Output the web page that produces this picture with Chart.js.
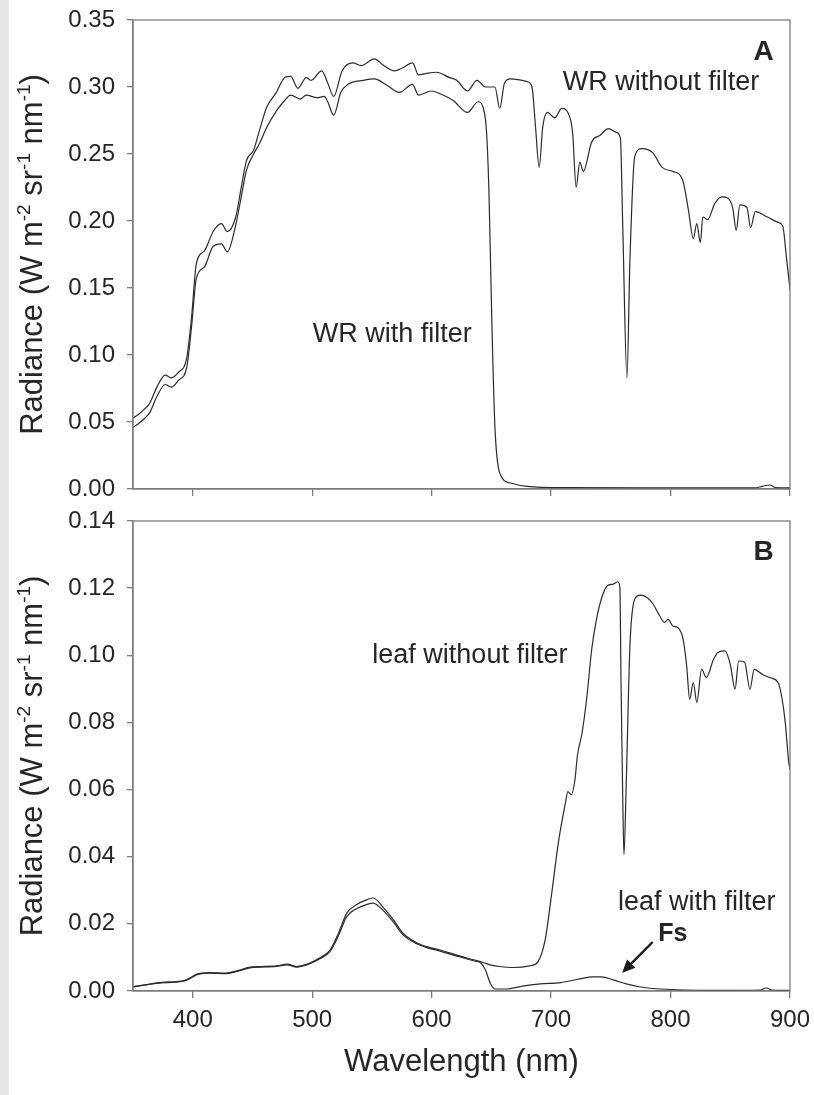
<!DOCTYPE html>
<html>
<head>
<meta charset="utf-8">
<script src="https://cdn.jsdelivr.net/npm/chart.js@4.4.1/dist/chart.umd.min.js"></script>
<style>
  html, body { margin: 0; padding: 0; background: #fff; }
  body { width: 814px; height: 1095px; position: relative; overflow: hidden; }
  body::before { content: ''; position: absolute; left: 0; top: 0; width: 9px; height: 1095px; background: #e6e6e6; }
  canvas { position: absolute; left: 0; }
  #panel-a { top: 0; }
  #panel-b { top: 500px; }
</style>
</head>
<body>
<canvas id="panel-a" width="814" height="520"></canvas>
<canvas id="panel-b" width="814" height="595"></canvas>
<script>
// Panel A: white reference, with and without filter
const wrNoFilterNm = [350, 355, 360, 364, 370, 377, 382, 388, 395, 399, 403, 410, 417, 424, 429, 436, 440, 445, 451, 456, 462, 470, 477, 482, 488, 495, 499, 508, 513, 518, 525, 534, 541, 552, 560, 569, 575, 584, 589, 595, 604, 615, 621, 630, 638, 645, 653, 657, 661, 666, 680, 684, 687, 690, 693, 697, 703, 709, 714, 718, 721, 724, 727, 734, 741, 748, 755, 758, 760, 763.5, 766, 770, 776, 785, 793, 802, 810, 815, 819, 822, 825, 827, 831, 837, 843, 848, 852, 855, 858, 864, 867, 871, 881, 890, 894, 897, 900];
const wrNoFilter = [0.053, 0.056, 0.060, 0.064, 0.076, 0.085, 0.083, 0.087, 0.098, 0.128, 0.168, 0.178, 0.192, 0.198, 0.192, 0.203, 0.222, 0.245, 0.253, 0.268, 0.285, 0.296, 0.307, 0.308, 0.299, 0.307, 0.305, 0.312, 0.303, 0.293, 0.312, 0.318, 0.316, 0.321, 0.316, 0.312, 0.314, 0.318, 0.309, 0.310, 0.311, 0.307, 0.305, 0.297, 0.305, 0.300, 0.300, 0.284, 0.303, 0.306, 0.304, 0.300, 0.270, 0.240, 0.270, 0.281, 0.277, 0.284, 0.281, 0.266, 0.225, 0.244, 0.237, 0.259, 0.264, 0.269, 0.266, 0.262, 0.196, 0.083, 0.171, 0.248, 0.254, 0.251, 0.240, 0.237, 0.231, 0.208, 0.187, 0.198, 0.184, 0.203, 0.201, 0.213, 0.218, 0.217, 0.210, 0.193, 0.212, 0.210, 0.195, 0.207, 0.203, 0.199, 0.196, 0.173, 0.149];

const wrFilterNm = [350, 355, 360, 364, 370, 377, 382, 388, 395, 399, 403, 410, 417, 424, 429, 436, 440, 445, 451, 456, 462, 470, 476, 482, 490, 495, 504, 510, 513, 518, 524, 530, 543, 552, 563, 573, 584, 589, 600, 607, 618, 630, 639, 643, 646, 648, 650.5, 653, 657, 666, 680, 713, 800, 870, 877, 883, 888, 900];
const wrFilter = [0.046, 0.049, 0.053, 0.057, 0.069, 0.078, 0.076, 0.081, 0.091, 0.121, 0.157, 0.166, 0.181, 0.183, 0.177, 0.197, 0.215, 0.238, 0.250, 0.258, 0.270, 0.282, 0.289, 0.294, 0.291, 0.294, 0.292, 0.293, 0.289, 0.279, 0.296, 0.302, 0.305, 0.306, 0.301, 0.296, 0.302, 0.294, 0.297, 0.295, 0.290, 0.281, 0.289, 0.285, 0.266, 0.221, 0.121, 0.046, 0.012, 0.0045, 0.002, 0.001, 0.0008, 0.0008, 0.002, 0.003, 0.001, 0.0008];

// Panel B: leaf, with and without filter
const leafNoFilterNm = [350, 360, 370, 380, 392, 398, 403, 414, 428, 437, 448, 470, 479, 487, 498, 506, 515, 522, 529, 537, 546, 551, 560, 568, 576, 588, 596, 607, 621, 635, 643, 650, 657, 668, 682, 689, 695, 700.5, 706, 712, 714, 717, 720, 722, 726, 730, 734, 738, 742, 747, 752, 756, 757.7, 758.5, 760, 761, 763, 766, 770, 774.5, 780, 785.5, 791, 795, 798, 802, 806, 810.5, 813.5, 816, 819, 822, 826, 830, 836, 840, 845.5, 850, 854, 857, 862, 866.5, 870, 877, 883, 890, 893, 896, 899, 900];
const leafNoFilter = [0.0013, 0.0018, 0.0024, 0.0027, 0.0030, 0.0039, 0.0050, 0.0055, 0.0053, 0.0060, 0.0071, 0.0075, 0.0080, 0.0073, 0.0083, 0.0098, 0.0122, 0.0172, 0.0232, 0.0257, 0.0272, 0.0277, 0.0247, 0.0212, 0.0172, 0.0143, 0.0132, 0.0122, 0.0107, 0.0093, 0.0085, 0.0077, 0.0073, 0.0070, 0.0075, 0.0087, 0.0152, 0.029, 0.044, 0.056, 0.0594, 0.0585, 0.063, 0.070, 0.077, 0.0878, 0.1018, 0.1107, 0.1167, 0.1207, 0.1212, 0.1219, 0.1197, 0.0928, 0.057, 0.0406, 0.063, 0.1028, 0.1167, 0.1179, 0.1173, 0.1152, 0.1117, 0.1098, 0.1107, 0.1087, 0.1083, 0.1048, 0.0968, 0.0869, 0.0919, 0.0860, 0.0958, 0.0934, 0.0988, 0.1009, 0.1013, 0.0973, 0.0899, 0.0983, 0.0979, 0.0899, 0.0958, 0.0943, 0.0934, 0.0919, 0.0878, 0.0800, 0.0680, 0.0660];

const leafFilterNm = [350, 370, 392, 398, 403, 414, 428, 437, 448, 470, 479, 487, 498, 506, 515, 522, 529, 537, 546, 551, 560, 568, 576, 588, 596, 607, 621, 635, 641, 645, 649, 653, 663, 674, 691, 708, 724, 735, 742, 752, 763, 775, 791, 836, 875, 880, 885, 900];
const leafFilter = [0.0012, 0.0023, 0.0029, 0.0037, 0.0048, 0.0053, 0.0052, 0.0058, 0.0069, 0.0073, 0.0078, 0.0071, 0.0081, 0.0095, 0.0118, 0.0165, 0.0222, 0.0245, 0.0258, 0.0262, 0.0238, 0.0205, 0.0167, 0.0140, 0.0129, 0.0119, 0.0104, 0.0090, 0.0084, 0.0063, 0.0024, 0.0006, 0.0006, 0.0013, 0.0021, 0.0025, 0.0036, 0.0042, 0.0042, 0.0033, 0.0021, 0.0012, 0.0006, 0.0002, 0.0003, 0.0009, 0.0003, 0.0002];

const xRange = [350, 900];
const yRangeA = [0, 0.35];
const yRangeB = [0, 0.14];

const notesA = [
  { text: 'A', nm: 878, value: 0.326, bold: true },
  { text: 'WR without filter', nm: 792, value: 0.303 },
  { text: 'WR with filter', nm: 567, value: 0.115 }
];
const notesB = [
  { text: 'B', nm: 878, value: 0.1307, bold: true },
  { text: 'leaf without filter', nm: 632, value: 0.1, },
  { text: 'leaf with filter', nm: 822, value: 0.0264 },
  { text: 'Fs', nm: 802, value: 0.017, bold: true, size: 25 }
];
const fsArrow = { from: [785, 0.0146], to: [759.5, 0.0054] };

const FONT = '"Liberation Sans", Arial, sans-serif';
const INK = '#262626';
const AXIS = '#7c7c7c';

const toPoints = (nm, val) => nm.map((x, i) => ({ x, y: val[i] }));

const framePlugin = {
  id: 'frame',
  afterDraw(chart) {
    const { ctx, chartArea: a } = chart;
    ctx.save();
    ctx.strokeStyle = AXIS;
    ctx.lineWidth = 1.3;
    ctx.strokeRect(a.left, a.top, a.right - a.left, a.bottom - a.top);
    ctx.restore();
  }
};

const notesPlugin = {
  id: 'notes',
  afterDraw(chart, args, opts) {
    const { ctx, scales: { x, y } } = chart;
    ctx.save();
    ctx.fillStyle = INK;
    ctx.textAlign = 'center';
    ctx.textBaseline = 'middle';
    (opts.items || []).forEach(n => {
      ctx.font = `${n.bold ? 'bold ' : ''}${n.size || (n.bold ? 28 : 27)}px ${FONT}`;
      ctx.fillText(n.text, x.getPixelForValue(n.nm), y.getPixelForValue(n.value));
    });
    if (opts.arrow) {
      const x0 = x.getPixelForValue(opts.arrow.from[0]), y0 = y.getPixelForValue(opts.arrow.from[1]);
      const x1 = x.getPixelForValue(opts.arrow.to[0]), y1 = y.getPixelForValue(opts.arrow.to[1]);
      const ang = Math.atan2(y1 - y0, x1 - x0);
      ctx.strokeStyle = '#1a1a1a';
      ctx.fillStyle = '#1a1a1a';
      ctx.lineWidth = 2.4;
      ctx.beginPath();
      ctx.moveTo(x0, y0);
      ctx.lineTo(x1 - 8 * Math.cos(ang), y1 - 8 * Math.sin(ang));
      ctx.stroke();
      ctx.beginPath();
      ctx.moveTo(x1, y1);
      ctx.lineTo(x1 - 13 * Math.cos(ang) + 6 * Math.sin(ang), y1 - 13 * Math.sin(ang) - 6 * Math.cos(ang));
      ctx.lineTo(x1 - 13 * Math.cos(ang) - 6 * Math.sin(ang), y1 - 13 * Math.sin(ang) + 6 * Math.cos(ang));
      ctx.closePath();
      ctx.fill();
    }
    ctx.restore();
  }
};

// rotated y title with real superscripts
const yTitlePlugin = {
  id: 'yTitle',
  afterDraw(chart) {
    const { ctx, chartArea: a } = chart;
    const size = 31, sup = 19;
    const parts = [['Radiance (W m', 0], ['-2', 1], [' sr', 0], ['-1', 1], [' nm', 0], ['-1', 1], [')', 0]];
    const fontOf = p => `${p[1] ? sup : size}px ${FONT}`;
    let total = 0;
    parts.forEach(p => { ctx.font = fontOf(p); total += ctx.measureText(p[0]).width; });
    ctx.save();
    ctx.translate(42, (a.top + a.bottom) / 2);
    ctx.rotate(-Math.PI / 2);
    ctx.fillStyle = INK;
    ctx.textBaseline = 'alphabetic';
    let pos = -total / 2;
    parts.forEach(p => {
      ctx.font = fontOf(p);
      ctx.fillText(p[0], pos, p[1] ? -12 : 0);
      pos += ctx.measureText(p[0]).width;
    });
    ctx.restore();
  }
};

function makePanel(id, cfg) {
  return new Chart(document.getElementById(id), {
    type: 'line',
    data: {
      datasets: cfg.series.map(s => ({
        data: toPoints(s[0], s[1]),
        borderColor: '#2b2b2b',
        borderWidth: 1.2,
        pointRadius: 0,
        cubicInterpolationMode: 'monotone',
        fill: false
      }))
    },
    options: {
      responsive: false,
      animation: false,
      devicePixelRatio: 1,
      layout: { padding: { top: cfg.padTop, right: 24, left: 0, bottom: 0 } },
      plugins: {
        legend: { display: false },
        tooltip: { enabled: false },
        notes: { items: cfg.notes, arrow: cfg.arrow }
      },
      scales: {
        x: {
          type: 'linear',
          min: xRange[0],
          max: xRange[1],
          ticks: {
            stepSize: 100,
            includeBounds: false,
            display: cfg.xLabels,
            maxRotation: 0,
            autoSkip: false,
            padding: 8,
            color: INK,
            font: { size: 24, family: FONT }
          },
          grid: { drawOnChartArea: false, tickLength: 7, color: AXIS, lineWidth: 1.3 },
          border: { color: AXIS, width: 1.3 },
          title: {
            display: cfg.xLabels,
            text: 'Wavelength (nm)',
            color: INK,
            font: { size: 31, family: FONT },
            padding: { top: 0, bottom: 14 }
          },
          afterFit: s => {
            s.height = cfg.xHeight;
            s.paddingLeft = 0;
            s.paddingRight = 0;
          }
        },
        y: {
          min: cfg.yRange[0],
          max: cfg.yRange[1],
          ticks: {
            stepSize: cfg.yStep,
            padding: 12,
            color: INK,
            font: { size: 24, family: FONT },
            callback: v => v.toFixed(2)
          },
          grid: { drawOnChartArea: false, tickLength: 6, color: AXIS, lineWidth: 1.3 },
          border: { color: AXIS, width: 1.3 },
          afterFit: s => {
            s.width = 133;
            s.paddingTop = 0;
            s.paddingBottom = 0;
          }
        }
      }
    },
    plugins: [framePlugin, notesPlugin, yTitlePlugin]
  });
}

makePanel('panel-a', {
  series: [[wrNoFilterNm, wrNoFilter], [wrFilterNm, wrFilter]],
  yRange: yRangeA, yStep: 0.05,
  padTop: 20, xHeight: 31, xLabels: false,
  notes: notesA
});

makePanel('panel-b', {
  series: [[leafNoFilterNm, leafNoFilter], [leafFilterNm, leafFilter]],
  yRange: yRangeB, yStep: 0.02,
  padTop: 21, xHeight: 104, xLabels: true,
  notes: notesB, arrow: fsArrow
});
</script>
</body>
</html>
